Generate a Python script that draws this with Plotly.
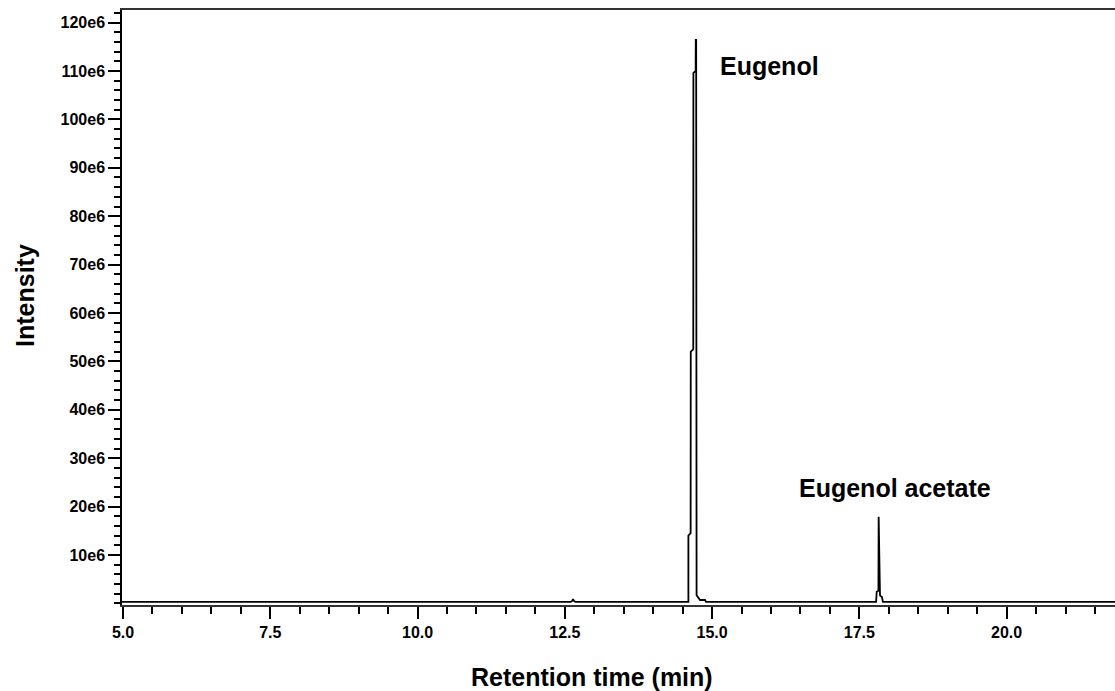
import plotly.graph_objects as go

# Chromatogram vertices (time in min, intensity)
time_min = [4.98, 12.60, 12.625, 12.64, 12.655, 12.68,
            14.559, 14.598, 14.598, 14.636, 14.638, 14.681, 14.683, 14.721, 14.723,
            14.730, 14.737, 14.762, 14.796, 14.880, 14.897,
            17.784, 17.795, 17.824, 17.826, 17.828, 17.850, 17.852, 17.884, 17.900, 21.9]
intensity = [0.3e6, 0.3e6, 0.5e6, 0.9e6, 0.5e6, 0.3e6,
             0.3e6, 0.3e6, 14.0e6, 14.5e6, 52.0e6, 52.5e6, 109.6e6, 110.0e6, 116.4e6,
             116.4e6, 1.7e6, 1.2e6, 0.7e6, 0.7e6, 0.3e6,
             0.3e6, 2.4e6, 2.6e6, 17.9e6, 17.9e6, 2.0e6, 1.6e6, 1.3e6, 0.3e6, 0.3e6]

x_tick_vals = [5.0, 7.5, 10.0, 12.5, 15.0, 17.5, 20.0]
x_tick_text = ["5.0", "7.5", "10.0", "12.5", "15.0", "17.5", "20.0"]
y_tick_vals = [10e6, 20e6, 30e6, 40e6, 50e6, 60e6, 70e6, 80e6, 90e6, 100e6, 110e6, 120e6]
y_tick_text = ["10e6", "20e6", "30e6", "40e6", "50e6", "60e6", "70e6", "80e6", "90e6",
               "100e6", "110e6", "120e6"]

peak_labels = ["Eugenol", "Eugenol acetate"]
peak_label_x = [15.10, 16.44]
peak_label_y = [111e6, 23.8e6]

tick_font = dict(family="Liberation Sans, Arial, sans-serif",
                 size=16, color="black", weight="bold")
title_font = dict(family="Liberation Sans, Arial, sans-serif", size=25, color="black", weight="bold")

fig = go.Figure()
fig.add_trace(go.Scatter(x=time_min, y=intensity, mode="lines",
                         line=dict(color="black", width=1.8), hoverinfo="skip",
                         showlegend=False))

for txt, lx, ly in zip(peak_labels, peak_label_x, peak_label_y):
    fig.add_annotation(x=lx, y=ly, xref="x", yref="y", text=txt, showarrow=False,
                       xanchor="left", yanchor="middle", font=title_font)

fig.add_annotation(x=0.473, y=-0.121, xref="paper", yref="paper", text="Retention time (min)",
                   showarrow=False, xanchor="center", yanchor="middle", font=title_font)
fig.add_annotation(x=-0.0977, y=0.521, xref="paper", yref="paper", text="Intensity",
                   showarrow=False, xanchor="center", yanchor="middle", textangle=-90,
                   font=title_font)

fig.update_xaxes(range=[4.983, 21.84], tickmode="array", tickvals=x_tick_vals,
                 ticktext=x_tick_text, ticks="outside", ticklen=12, tickwidth=1.5,
                 tickcolor="black", tickfont=tick_font, showgrid=False, zeroline=False,
                 showline=True, linecolor="#333333", linewidth=1.5, mirror=True,
                 minor=dict(tick0=5.0, dtick=0.5, ticks="outside", ticklen=7,
                            tickwidth=1.5, tickcolor="black", showgrid=False))
fig.update_yaxes(range=[-0.33e6, 122.6e6], tickmode="array", tickvals=y_tick_vals,
                 ticktext=y_tick_text, ticks="outside", ticklen=12, tickwidth=1.5,
                 tickcolor="black", tickfont=tick_font, showgrid=False, zeroline=False,
                 showline=True, linecolor="black", linewidth=1.5, mirror=False,
                 minor=dict(tick0=0, dtick=2e6, ticks="outside", ticklen=6,
                            tickwidth=1.5, tickcolor="black", showgrid=False))

fig.update_layout(width=1115, height=691, margin=dict(l=122, r=0, t=10, b=86),
                  plot_bgcolor="white", paper_bgcolor="white")

fig.write_html("out.html", config={"displayModeBar": False},
               post_script="document.body.style.margin='0';document.body.style.overflow='hidden';")
